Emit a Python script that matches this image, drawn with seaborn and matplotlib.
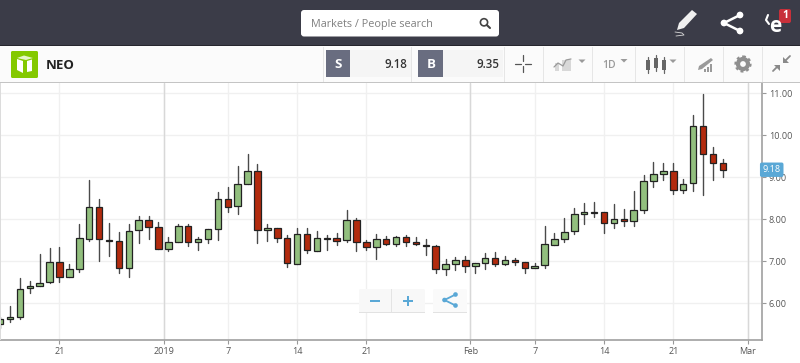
import matplotlib
matplotlib.use("Agg")
import matplotlib.pyplot as plt
from matplotlib.patches import Rectangle, FancyBboxPatch, Circle, Polygon
import numpy as np
import pandas as pd
import seaborn as sns

# one candle per day, Dec 15 to Feb 26
opens = [5.51, 5.62, 5.67, 6.36, 6.40, 6.50, 6.98, 6.62, 6.81, 7.54, 8.30, 7.50, 7.48, 6.83, 7.74, 7.98, 7.81,
         7.29, 7.46, 7.83, 7.47, 7.52, 7.76, 8.48, 8.31, 8.83, 9.14, 7.74, 7.79, 7.55, 6.94, 7.64, 7.25, 7.56, 7.56,
         7.50, 7.98, 7.45, 7.35, 7.52, 7.40, 7.57, 7.45, 7.39, 7.36, 6.81, 6.94, 7.02, 6.88, 6.96, 7.09, 6.94, 7.03,
         6.98, 6.83, 6.90, 7.39, 7.54, 7.71, 8.12, 8.16, 8.17, 7.90, 8.01, 7.95, 8.21, 8.90, 9.09, 9.16, 8.69, 8.86,
         10.21, 9.56, 9.33]
closes = [5.62, 5.68, 6.35, 6.40, 6.49, 6.98, 6.62, 6.81, 7.55, 8.30, 7.52, 7.48, 6.83, 7.71, 7.98, 7.81, 7.29,
          7.47, 7.83, 7.47, 7.52, 7.76, 8.48, 8.30, 8.83, 9.14, 7.74, 7.79, 7.56, 6.95, 7.64, 7.26, 7.56, 7.52, 7.49,
          7.98, 7.47, 7.35, 7.52, 7.40, 7.57, 7.47, 7.40, 7.36, 6.81, 6.94, 7.02, 6.88, 6.96, 7.09, 6.94, 7.03, 6.98,
          6.83, 6.89, 7.40, 7.52, 7.70, 8.12, 8.17, 8.17, 7.90, 8.01, 7.95, 8.21, 8.90, 9.07, 9.16, 8.70, 8.85, 10.21,
          9.56, 9.33, 9.18]
highs = [5.67, 5.94, 6.60, 6.54, 7.17, 7.31, 7.33, 6.94, 7.88, 8.94, 8.49, 7.92, 7.69, 7.89, 8.08, 8.08, 7.94,
         7.57, 7.89, 7.89, 7.57, 7.76, 8.64, 8.77, 9.28, 9.56, 9.31, 7.89, 7.79, 7.63, 7.79, 7.79, 7.72, 7.63, 7.67,
         8.21, 8.02, 7.51, 7.66, 7.60, 7.61, 7.62, 7.57, 7.54, 7.38, 7.06, 7.10, 7.12, 6.96, 7.19, 7.23, 7.12, 7.07,
         6.98, 6.95, 7.84, 7.67, 8.04, 8.26, 8.39, 8.41, 8.17, 8.37, 8.24, 8.67, 9.06, 9.37, 9.33, 9.35, 8.95, 10.48,
         10.98, 9.72, 9.44]
lows = [5.42, 5.55, 5.62, 6.24, 6.40, 6.48, 6.50, 6.62, 6.75, 7.48, 7.01, 7.13, 6.72, 6.63, 7.43, 7.54, 7.29,
        7.25, 7.46, 7.36, 7.26, 7.44, 7.51, 8.17, 8.13, 8.83, 7.43, 7.48, 7.46, 6.87, 6.94, 7.19, 7.25, 7.27, 7.39,
        7.46, 7.24, 7.27, 7.05, 7.38, 7.37, 7.37, 7.38, 7.15, 6.73, 6.67, 6.79, 6.75, 6.71, 6.81, 6.88, 6.90, 6.92,
        6.71, 6.83, 6.85, 7.39, 7.47, 7.65, 7.89, 8.06, 7.67, 7.80, 7.83, 7.83, 8.16, 8.77, 8.93, 8.60, 8.62, 8.67,
        8.59, 8.94, 9.00]

price_ticks = [6, 7, 8, 9, 10, 11]
day_ticks = [6, 23, 30, 37, 54, 61, 68]
day_labels = ["21", "7", "14", "21", "7", "14", "21"]
# month lines sit half a day before their candle on the source chart
month_ticks = [16.53, 47.5, 75.5]
month_labels = ["2019", "Feb", "Mar"]

DARK = "#3b3c48"
SLATE = "#696d80"
BLUE = "#5aa8d6"
GREY_ICON = "#9a9a9a"
UP = "#92bf7e"
DOWN = "#b22b0e"
EDGE = "#222222"

sns.set_theme(style="white")
plt.rcParams["font.family"] = ["Open Sans", "DejaVu Sans"]

df = pd.DataFrame({"i": range(len(opens)), "open": opens, "close": closes, "high": highs, "low": lows})
df["bottom"] = df[["open", "close"]].min(axis=1)
df["body"] = (df["close"] - df["open"]).abs()
df["up"] = df["close"] >= df["open"]

wicks = df.melt(id_vars="i", value_vars=["low", "high"], value_name="price").sort_values("i")

fig = plt.figure(figsize=(8, 3.63), dpi=100)
ax = fig.add_axes([0, 1 - 340.3 / 363, 762 / 800, (340.3 - 83) / 363])

sns.lineplot(data=wicks, x="i", y="price", units="i", estimator=None, color="#4a4a4a", lw=1.0, ax=ax, zorder=2)
for is_up, color in [(True, UP), (False, DOWN)]:
    part = df[df["up"] == is_up]
    sns.barplot(data=part, x="i", y="body", bottom=part["bottom"].values, native_scale=True, width=0.66,
                color=color, saturation=1, edgecolor=EDGE, linewidth=0.9, errorbar=None, ax=ax, zorder=3)

ax.set_xlim(-0.01, 76.96)
ax.set_ylim(5.119, 11.245)
ax.set_xlabel("")
ax.set_ylabel("")
ax.set_xticks(day_ticks + month_ticks)
ax.set_xticklabels(day_labels + month_labels)
ax.set_yticks(price_ticks)
ax.set_yticklabels([f"{p:.2f}" for p in price_ticks])
ax.yaxis.tick_right()
ax.tick_params(axis="both", length=3, width=0.8, color="#999999", labelsize=6.5, labelcolor="#555555", pad=2,
               bottom=True, right=True)
ax.set_axisbelow(True)
ax.grid(True, color="#f0f0f0", lw=1)
for m in month_ticks:
    ax.axvline(m, color="#d8d8d8", lw=1, zorder=1)
for side in ["top", "left"]:
    ax.spines[side].set_visible(False)
for side in ["bottom", "right"]:
    ax.spines[side].set_color("#a0a0a0")
    ax.spines[side].set_linewidth(1.2)

# last price tag on the axis
ax.annotate(f"{closes[-1]:.2f}", xy=(1, closes[-1]), xycoords=ax.get_yaxis_transform(), xytext=(7, 0),
            textcoords="offset points", ha="center", va="center", fontsize=6.5, color="white", zorder=10,
            annotation_clip=False,
            bbox=dict(boxstyle="round,pad=0.3,rounding_size=0.2", fc=BLUE, ec="none"))

# app chrome, drawn in pixel coordinates
ui = fig.add_axes([0, 0, 1, 1], zorder=5)
ui.set_xlim(0, 800)
ui.set_ylim(363, 0)
ui.axis("off")
ui.patch.set_visible(False)


def rect(x0, y0, x1, y1, color, **kw):
    ui.add_patch(Rectangle((x0, y0), x1 - x0, y1 - y0, fc=color, ec="none", **kw))


def rbox(x0, y0, x1, y1, color, r=2, ec="none"):
    ui.add_patch(FancyBboxPatch((x0 + r, y0 + r), x1 - x0 - 2 * r, y1 - y0 - 2 * r,
                                boxstyle=f"round,pad={r},rounding_size={r}", fc=color, ec=ec, lw=0.6,
                                mutation_aspect=1))


def share_icon(cx, cy, s, lw, color):
    pts = [(cx + s, cy - s), (cx - s, cy), (cx + s, cy + s)]
    ui.plot([p[0] for p in pts], [p[1] for p in pts], color=color, lw=lw)
    for p in pts:
        ui.add_patch(Circle(p, s * 0.42, fc=color, ec="none"))


# top bar
rect(0, 0, 800, 46, DARK)
rect(0, 44.8, 800, 46, "#26262e")
rbox(301, 10, 499, 36.5, "white", r=3)
ui.text(311, 24, "Markets / People search", fontsize=7.8, color="#808080", va="center")
ui.add_patch(Circle((484, 22.3), 3.6, fc="none", ec="#444444", lw=1.2))
ui.plot([486.8, 490], [25, 28], color="#444444", lw=1.5)

# pencil, share and notification icons
ui.add_patch(Polygon([(692, 10), (697, 14), (684, 28), (677, 30), (679, 23)], fc="#f0f0f0", ec="none"))
ui.plot([675, 682, 684, 676], [32, 33, 35, 36], color="#d8d8d8", lw=0.6)
share_icon(732, 23, 8, 1.8, "white")
ui.text(775, 26, "e", fontsize=15, fontweight="bold", color="white", ha="center", va="center")
ui.plot([768, 766, 769], [15, 20, 24], color="white", lw=1.5)
rbox(779, 9, 791, 23, "#c8303a", r=2)
ui.text(785, 16, "1", fontsize=7.5, fontweight="bold", color="white", ha="center", va="center")

# instrument bar
rect(0, 46, 800, 82, "#fbfbfb")
rect(0, 82, 800, 83, "#c4c4c4")
rbox(11, 51, 38, 78, "#84c900", r=1.5)
ui.add_patch(Polygon([(17, 58), (24, 55.5), (33, 58), (26, 60)], fc="#e6f5c8", ec="none"))
ui.add_patch(Polygon([(17, 59), (23, 61), (23, 73), (17, 70)], fc="white", ec="none"))
ui.add_patch(Polygon([(27, 61), (32, 59.5), (32, 71), (27, 72)], fc="white", ec="none"))
ui.text(46, 65.5, "NEO", fontsize=9.5, fontweight="bold", color="#222222", va="center")

rect(350, 50, 411, 77, "#f5f5f5")
rect(326, 50, 350, 77, SLATE)
ui.text(338, 65, "S", fontsize=9.5, fontweight="bold", color="white", ha="center", va="center")
ui.text(407.5, 65, "9.18", fontsize=8.3, fontweight="semibold", color="#333333", ha="right", va="center")
rect(443, 50, 503, 77, "#f5f5f5")
rect(418, 50, 443, 77, SLATE)
ui.text(431, 65, "B", fontsize=9.5, fontweight="bold", color="white", ha="center", va="center")
ui.text(499.5, 65, "9.35", fontsize=8.3, fontweight="semibold", color="#333333", ha="right", va="center")

for sep in [323, 411, 504, 543, 592, 635, 684, 723, 762]:
    rect(sep, 47, sep + 0.8, 82, "#e6e6e6")

# crosshair
ui.plot([515, 521], [63.5, 63.5], color="#555555", lw=0.9)
ui.plot([525, 531], [63.5, 63.5], color="#555555", lw=0.9)
ui.plot([523, 523], [55, 61], color="#555555", lw=0.9)
ui.plot([523, 523], [66, 72], color="#555555", lw=0.9)
rect(511, 75.5, 536, 76.3, "#dddddd")

# indicator icon
rect(555, 63, 559, 71, "#d8d8d8")
rect(562, 60, 571, 71, "#d8d8d8")
ui.plot([554, 558, 563, 566, 571], [67, 63, 66, 60, 59], color=GREY_ICON, lw=0.9)
for cx, cy in [(582, 61), (624, 60.5), (673, 61)]:
    ui.add_patch(Polygon([(cx - 3.5, cy - 1.5), (cx + 3.5, cy - 1.5), (cx, cy + 2)], fc=GREY_ICON, ec="none"))
ui.text(609, 65.5, "1D", fontsize=7.5, fontweight="semibold", color=GREY_ICON, ha="center", va="center")

# candle icon
for cx, t, b in [(648, 60, 70), (656, 58, 68), (664, 60, 70)]:
    ui.plot([cx, cx], [t - 3, b + 3], color="#666666", lw=0.9)
    rect(cx - 2, t, cx + 2, b, "#666666")

# drawing icon
ui.add_patch(Polygon([(711, 58), (713, 60), (702, 69), (698, 70), (699, 66)], fc=GREY_ICON, ec="none"))
for k, h in enumerate([3, 5, 8]):
    rect(704 + k * 3, 71.5 - h, 706 + k * 3, 71.5, GREY_ICON)

# gear
ui.add_patch(Circle((743, 64), 5, fc="none", ec="#8f8f8f", lw=3))
ui.add_patch(Circle((743, 64), 7.2, fc="none", ec="#8f8f8f", lw=2, ls=(0, (1.0, 1.0))))

# compress arrows
ui.plot([785, 790], [61, 56], color="#8a8a8a", lw=1.3)
ui.add_patch(Polygon([(783, 57), (783, 63), (789, 63)], fc="#8a8a8a", ec="none"))
ui.plot([773, 778], [71, 66], color="#8a8a8a", lw=1.3)
ui.add_patch(Polygon([(774, 64.5), (780, 64.5), (780, 70.5)], fc="#8a8a8a", ec="none"))

# floating zoom and share buttons
rbox(359, 289, 425, 313, "#f8f8f8", r=1.5)
rect(391, 289, 391.8, 313, "#e4e4e4")
rect(359, 312.4, 425, 313.2, "#e2e2e2")
rect(370, 299.5, 380, 301.7, BLUE)
rect(403, 299.7, 413, 301.9, BLUE)
rect(406.9, 295.8, 409.1, 305.8, BLUE)
rbox(433, 289, 467, 313, "#fafafa", r=1.5)
rect(433, 312.4, 467, 313.2, "#e2e2e2")
share_icon(450, 300, 5.5, 1.3, BLUE)

# faint strip along the left edge
rect(0, 83, 1.2, 340, "#dcdcdc")

fig.savefig("out.png", dpi=100)
